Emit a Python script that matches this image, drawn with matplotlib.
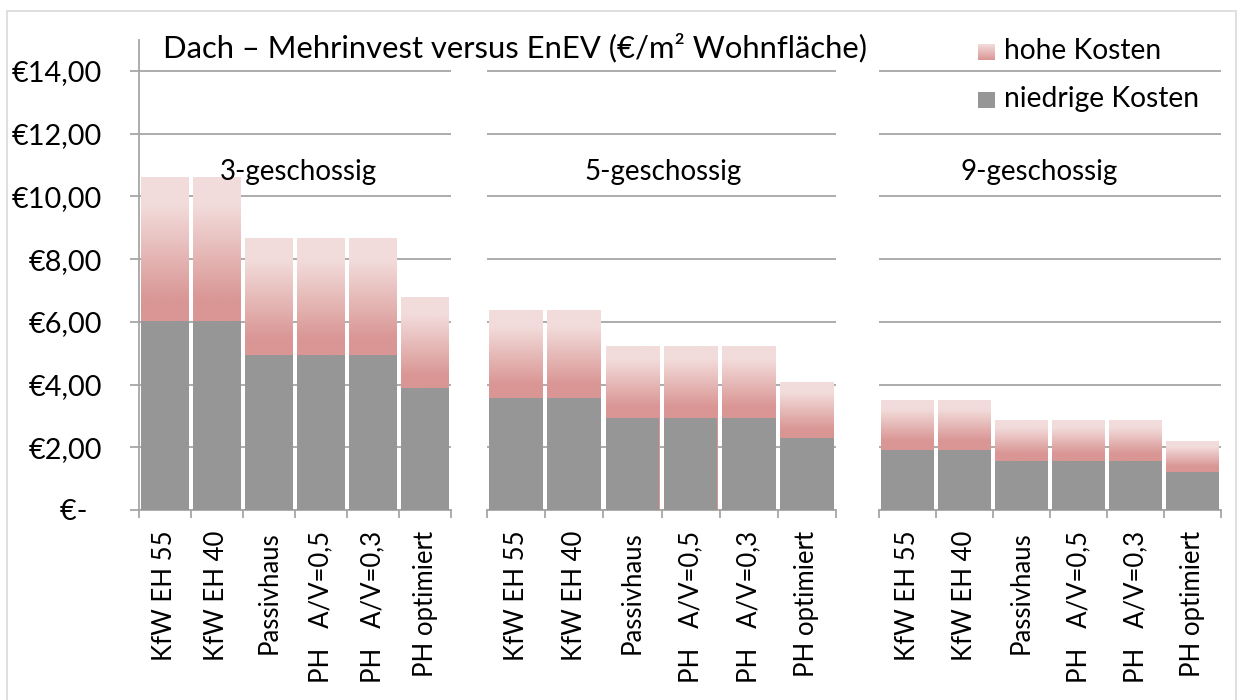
import matplotlib
matplotlib.use("Agg")
import matplotlib.pyplot as plt
import matplotlib.patches as patches
from matplotlib.colors import LinearSegmentedColormap
import numpy as np

plt.rcParams['font.family'] = ['Lato', 'DejaVu Sans']

categories = ["KfW EH 55", "KfW EH 40", "Passivhaus", "PH   A/V=0,5", "PH   A/V=0,3", "PH optimiert"]
groups = ["3-geschossig", "5-geschossig", "9-geschossig"]

# hohe Kosten (total) and niedrige Kosten per group
hohe_3 = [10.59, 10.59, 8.67, 8.67, 8.67, 6.79]
niedrig_3 = [6.03, 6.03, 4.94, 4.94, 4.94, 3.89]
hohe_5 = [6.35, 6.35, 5.20, 5.20, 5.20, 4.05]
niedrig_5 = [3.58, 3.58, 2.94, 2.94, 2.94, 2.30]
hohe_9 = [3.48, 3.48, 2.84, 2.84, 2.84, 2.20]
niedrig_9 = [1.92, 1.92, 1.57, 1.57, 1.57, 1.22]

yticks = [0, 2, 4, 6, 8, 10, 12, 14]
ytick_labels = ["€-  ", "€2,00", "€4,00", "€6,00", "€8,00", "€10,00", "€12,00", "€14,00"]

GRAY = '#969696'
GRID = '#A6A6A6'
PINK_LIGHT = '#F2DCDB'
PINK_DARK = '#D99694'

grad_cmap = LinearSegmentedColormap.from_list(
    'pinkgrad', [(0.0, PINK_DARK), (0.63, PINK_DARK), (0.92, PINK_LIGHT), (1.0, PINK_LIGHT)])
grad = np.linspace(0, 1, 256).reshape(-1, 1)

W, H = 1242, 700
fig = plt.figure(figsize=(W / 100, H / 100), dpi=100)
fig.patch.set_facecolor('white')

# outer frame
frame = patches.Rectangle((7 / W, -0.01), (1236 - 7) / W, 1 - 11 / H + 0.01,
                          transform=fig.transFigure, fill=False,
                          edgecolor='#D9D9D9', linewidth=1.2)
fig.patches.append(frame)

y_bottom = 1 - 510 / H
y_height = (510 - 39.6) / H
panels = [(139, 451), (487, 836), (879, 1221)]
data = [(hohe_3, niedrig_3), (hohe_5, niedrig_5), (hohe_9, niedrig_9)]
label_x = [298, 663, 1039]

x = np.arange(len(categories))
bw = 0.92

for i, ((px0, px1), (hohe, niedrig)) in enumerate(zip(panels, data)):
    ax = fig.add_axes([px0 / W, y_bottom, (px1 - px0) / W, y_height])
    ax.set_facecolor('none')
    bars = ax.bar(x, hohe, width=bw, color='none', zorder=2)
    for rect in bars:
        x0 = rect.get_x()
        h = rect.get_height()
        ax.imshow(grad, cmap=grad_cmap, origin='lower', aspect='auto',
                  extent=(x0, x0 + bw, 0, h), zorder=2, interpolation='bilinear')
    ax.bar(x, niedrig, width=bw, color=GRAY, zorder=3)
    ax.set_xlim(-0.5, len(categories) - 0.5)
    ax.set_ylim(0, 15)

    ax.set_yticks(yticks)
    ax.yaxis.grid(True, color=GRID, linewidth=1.3, zorder=0)
    ax.set_axisbelow(True)
    ax.spines['top'].set_visible(False)
    ax.spines['right'].set_visible(False)
    ax.spines['bottom'].set_color(GRID)
    ax.spines['bottom'].set_linewidth(1.3)
    if i == 0:
        ax.spines['left'].set_color(GRID)
        ax.spines['left'].set_linewidth(1.3)
        ax.set_yticklabels(ytick_labels, fontsize=20.8)
        ax.tick_params(axis='y', length=6.5, width=1.3, color=GRID, pad=20)
    else:
        ax.spines['left'].set_visible(False)
        ax.tick_params(axis='y', length=0, labelleft=False)

    ax.set_xticks(x)
    ax.set_xticklabels(categories, rotation=90, fontsize=18.5, va='top', ha='center')
    ax.tick_params(axis='x', which='major', length=0, pad=15)
    ax.set_xticks(np.arange(-0.5, len(categories)), minor=True)
    ax.tick_params(axis='x', which='minor', length=6, width=1.3, color=GRID, direction='out')

    fig.text(label_x[i] / W, 1 - 172 / H, groups[i], fontsize=20,
             ha='center', va='center')

fig.text(163 / W, 1 - 48 / H, "Dach – Mehrinvest versus EnEV (€/m² Wohnfläche)",
         fontsize=22.3, ha='left', va='center')

# legend
lax1 = fig.add_axes([978 / W, 1 - 60 / H, 17 / W, 16 / H])
lax1.imshow(grad, cmap=LinearSegmentedColormap.from_list('lg', [PINK_DARK, PINK_LIGHT]),
            origin='lower', aspect='auto', extent=(0, 1, 0, 1))
lax1.axis('off')
lax2 = fig.add_axes([978 / W, 1 - 108 / H, 17 / W, 16 / H])
lax2.add_patch(patches.Rectangle((0, 0), 1, 1, color=GRAY))
lax2.set_xlim(0, 1)
lax2.set_ylim(0, 1)
lax2.axis('off')
fig.text(1004 / W, 1 - 51 / H, "hohe Kosten", fontsize=20.3, ha='left', va='center')
fig.text(1004 / W, 1 - 99 / H, "niedrige Kosten", fontsize=20.3, ha='left', va='center')

fig.savefig('out.png', dpi=100)
